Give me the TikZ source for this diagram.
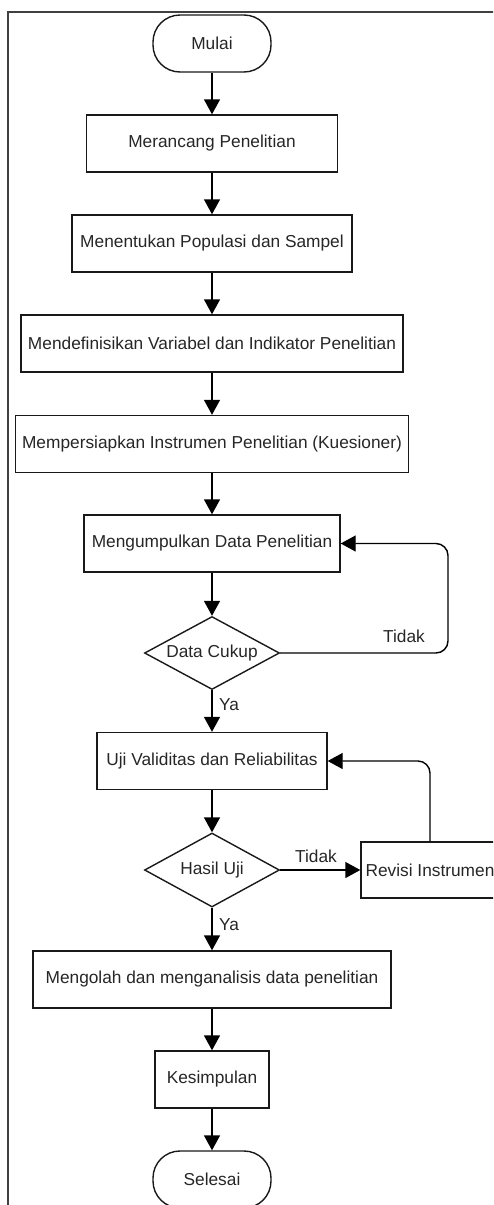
\documentclass[tikz,border=0pt]{standalone}
\usepackage{fontspec}
\setmainfont{Liberation Sans}
\usetikzlibrary{arrows.meta,shapes.geometric,calc}
\begin{document}
\begin{tikzpicture}[x=1pt,y=-1pt,
  font=\fontsize{17.3}{20}\selectfont,
  every node/.style={text=black!85, inner sep=1pt},
  procbox/.style={draw=black!90, line width=1.4pt, rectangle, minimum height=57pt, inner sep=1pt},
  termbox/.style={draw=black!90, line width=1.4pt, rectangle, rounded corners=27pt, minimum width=118pt, minimum height=57pt},
  decbox/.style={draw=black!90, line width=1.4pt, diamond, aspect=1.85, inner sep=0pt, minimum width=135pt, minimum height=73pt},
  arr/.style={draw=black, line width=1.4pt, -{Triangle[length=15pt,width=16pt]}},
  lbl/.style={inner sep=0pt}
]
\useasboundingbox (0,0) rectangle (493,1205);
\clip (0,0) rectangle (493,1205);
% frame
\draw[black!75, line width=2pt] (8,1210) -- (8,12) -- (500,12);

\node[termbox] (mulai) at (212,43.5) {Mulai};
\node[procbox, minimum width=251pt] (rancang) at (212,143.5) {Merancang Penelitian};
\node[procbox, minimum width=280pt] (tentu) at (212,243.5) {Menentukan Populasi dan Sampel};
\node[procbox, minimum width=382pt] (definisi) at (212,343.5) {Mendefinisikan Variabel dan Indikator Penelitian};
\node[procbox, minimum width=393pt] (siap) at (212,444) {Mempersiapkan Instrumen Penelitian (Kuesioner)};
\node[procbox, minimum width=256pt] (kumpul) at (212,543.5) {Mengumpulkan Data Penelitian};
\node[decbox] (cukup) at (212,653) {Data Cukup};
\node[procbox, minimum width=230pt] (uji) at (212,761) {Uji Validitas dan Reliabilitas};
\node[decbox, minimum height=74pt] (hasil) at (212,870) {Hasil Uji};
\node[procbox, minimum width=138pt, minimum height=56pt] (revisi) at (430,870) {Revisi Instrumen};
\node[procbox, minimum width=358pt] (olah) at (212,979.5) {Mengolah dan menganalisis data penelitian};
\node[procbox, minimum width=114pt] (simpul) at (212,1079.5) {Kesimpulan};
\node[termbox] (selesai) at (212,1179.5) {Selesai};

\coordinate (c1) at (448,543.5);

\draw[arr] (mulai) -- (rancang);
\draw[arr] (rancang) -- (tentu);
\draw[arr] (tentu) -- (definisi);
\draw[arr] (definisi) -- (siap);
\draw[arr] (siap) -- (kumpul);
\draw[arr] (kumpul) -- (cukup);
\draw[arr, rounded corners=12pt] (cukup.east) -| (c1) -- (kumpul.east);
\draw[arr] (cukup) -- (uji);
\draw[arr] (uji) -- (hasil);
\draw[arr] (hasil.east) -- (revisi.west);
\draw[arr, rounded corners=12pt] (revisi.north) |- (uji.east);
\draw[arr] (hasil) -- (olah);
\draw[arr] (olah) -- (simpul);
\draw[arr] (simpul) -- (selesai);

\node[lbl] (t1) at (404,636) {Tidak};
\node[lbl] (y1) at (229,705) {Ya};
\node[lbl] (t2) at (316,856) {Tidak};
\node[lbl] (y2) at (229,925) {Ya};
\end{tikzpicture}
\end{document}
